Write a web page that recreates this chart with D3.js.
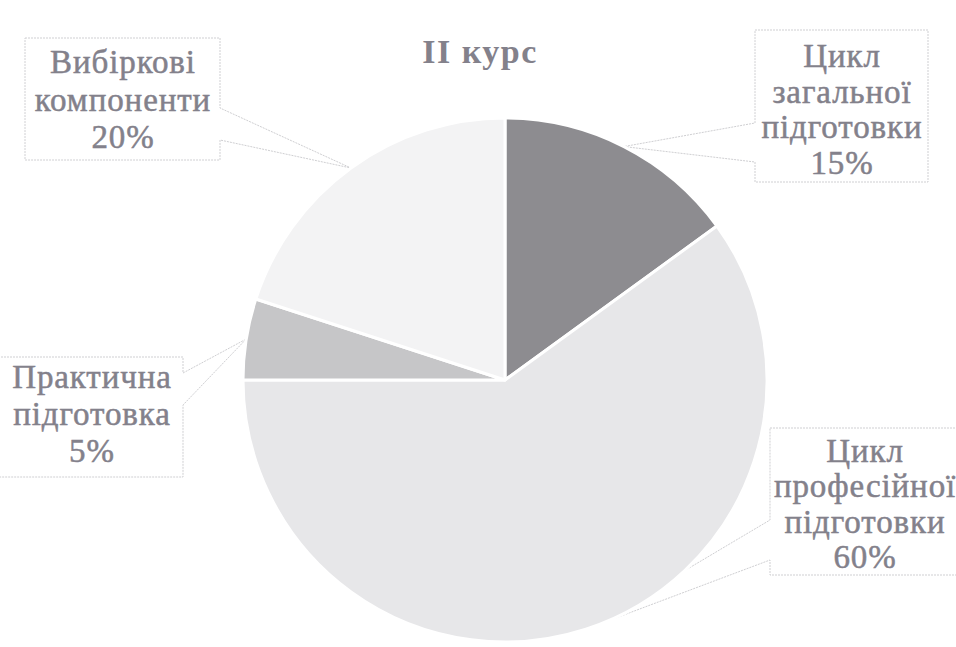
<!DOCTYPE html>
<html><head><meta charset="utf-8">
<script src="https://cdn.jsdelivr.net/npm/d3@7"></script>
<style>body{margin:0;background:#fff}svg{display:block}</style>
</head><body>
<svg id="c" width="956" height="647"></svg>
<script>
// ---- data ----
const title = "II курс";
const categories = ["Цикл загальної підготовки", "Цикл професійної підготовки", "Практична підготовка", "Вибіркові компоненти"];
const values = [15, 60, 5, 20];
const labelLines = [
  ["Цикл", "загальної", "підготовки"],
  ["Цикл", "професійної", "підготовки"],
  ["Практична", "підготовка"],
  ["Вибіркові", "компоненти"]
];

// ---- layout / style ----
const W = 956, H = 647;
const cx = 505, cy = 380, R = 262;
const colors = ["#8d8c90", "#e7e7e9", "#c6c6c8", "#f3f3f4"];
const textColor = "#83818b";
const FONT = "Liberation Serif";
const boxes = [
  {x:755, y:30, w:173, h:152, tx:842, ty:67, gap:35.5, side:"left", a1:123, a2:162},
  {x:770, y:428, w:200, h:147, tx:865, ty:462, gap:35.3, side:"left", a1:520, a2:560},
  {x:-5, y:357, w:188, h:120, tx:92, ty:388, gap:37, side:"right", a1:373, a2:405},
  {x:25, y:38, w:195, h:122, tx:123, ty:73, gap:37.5, side:"right", a1:108, a2:140}
];

const svg = d3.select("#c");
const total = d3.sum(values);
const pie = d3.pie().sort(null).value(d => d)(values);
const arc = d3.arc().innerRadius(0).outerRadius(R);
const edge = d3.arc().innerRadius(R).outerRadius(R);

// callouts
pie.forEach((p, i) => {
  const b = boxes[i];
  const c = edge.centroid(p);
  const tip = [cx + c[0], cy + c[1]];
  const x0 = b.x, x1 = b.x + b.w, y0 = b.y, y1 = b.y + b.h;
  let pts;
  if (b.side === "left") {
    pts = [[x0, y0], [x1, y0], [x1, y1], [x0, y1], [x0, b.a2], tip, [x0, b.a1]];
  } else {
    pts = [[x0, y0], [x1, y0], [x1, b.a1], tip, [x1, b.a2], [x1, y1], [x0, y1]];
  }
  svg.append("path")
    .attr("d", d3.line()(pts) + "Z")
    .attr("fill", "#fff")
    .attr("stroke", "#cfcfd2")
    .attr("stroke-width", 1)
    .attr("stroke-dasharray", "2,1");
});

// pie
const g = svg.append("g").attr("transform", `translate(${cx},${cy})`);
g.selectAll("path.slice").data(pie).join("path")
  .attr("class", "slice")
  .attr("d", arc)
  .attr("fill", (d, i) => colors[i])
  .attr("stroke", "#fff")
  .attr("stroke-width", 3)
  .attr("stroke-linejoin", "round");

// labels
pie.forEach((p, i) => {
  const b = boxes[i];
  const lines = labelLines[i].concat([Math.round(values[i] / total * 100) + "%"]);
  const t = svg.append("text")
    .style("font-family", FONT)
    .attr("font-size", 33)
    .attr("letter-spacing", 0.9)
    .attr("fill", textColor)
    .attr("stroke", textColor)
    .attr("stroke-width", 0.5)
    .attr("text-anchor", "middle");
  lines.forEach((l, k) => {
    t.append("tspan").attr("x", b.tx).attr("y", b.ty + k * b.gap).text(l);
  });
});

// title
svg.append("text")
  .attr("x", 480).attr("y", 63)
  .attr("text-anchor", "middle")
  .style("font-family", FONT)
  .attr("font-weight", "bold")
  .attr("font-size", 34)
  .attr("letter-spacing", 1.5)
  .attr("fill", textColor)
  .text(title);
</script>
</body></html>
